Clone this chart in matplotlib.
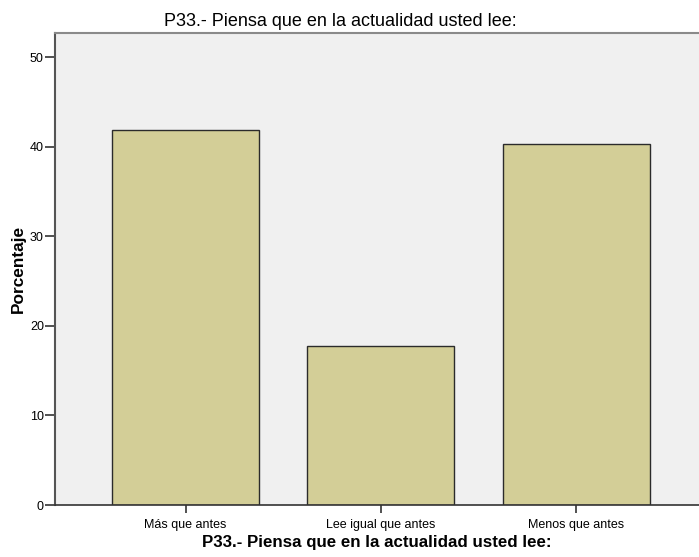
import numpy as np
import matplotlib.pyplot as plt

categorias = ["Más que antes", "Lee igual que antes", "Menos que antes"]
porcentajes = [41.85, 17.8, 40.35]
titulo = "P33.- Piensa que en la actualidad usted lee:"

plt.rcParams['font.family'] = ['Liberation Sans', 'DejaVu Sans']

fig = plt.figure(figsize=(6.99, 5.57), dpi=100)
ax = fig.add_axes([55/699, 52/557, 644/699, 472/557])
ax.set_facecolor("#f0f0f0")

x = np.arange(len(categorias))
ax.bar(x, porcentajes, width=0.753, color="#d3ce97", edgecolor="#2b2b2b", linewidth=1.0, zorder=2)

ax.set_xlim(-0.669, 2.629)
ax.set_ylim(0, 52.7)
ax.set_yticks([0, 10, 20, 30, 40, 50])
ax.set_xticks(x)
ax.set_xticklabels(categorias)
ax.tick_params(axis="both", labelsize=9, length=7, width=1.2, color="#333333", pad=1)
ax.tick_params(axis="x", length=6, pad=4)

ax.spines["right"].set_visible(False)
ax.spines["top"].set_color("#8a8a8a")
ax.spines["top"].set_linewidth(1.5)
ax.spines["left"].set_color("#555555")
ax.spines["left"].set_linewidth(1.5)
ax.spines["bottom"].set_color("#333333")
ax.spines["bottom"].set_linewidth(1.2)

ax.set_ylabel("Porcentaje", fontsize=12.4, fontweight="bold", labelpad=3)
ax.set_xlabel(titulo, fontsize=12.2, fontweight="bold", labelpad=3)
fig.text(340/699, 1 - 25.5/557, titulo, ha="center", va="baseline", fontsize=13)

fig.savefig("out.png", dpi=100)
